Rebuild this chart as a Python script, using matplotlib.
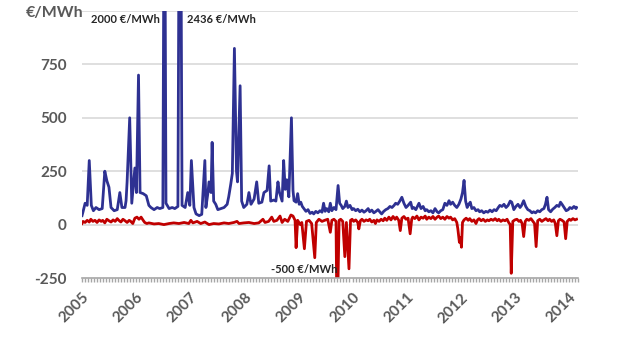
import matplotlib
matplotlib.use("Agg")
import matplotlib.pyplot as plt
import numpy as np

# Weeks since start of 2005 and prices in EUR/MWh
blue_weeks = [0, 1, 3, 5, 7, 9, 11, 13.5, 16.5, 19.5,
              22, 24, 26, 28, 31, 34, 36.5, 38.5, 41.5, 42.5,
              43.5, 46, 48, 51, 52.5, 54.5, 56, 59, 62, 64.5,
              66.5, 69.5, 72.5, 75, 78, 79.5, 81, 84, 87, 89.5,
              92.5, 94.5, 96.5, 99.5, 102, 104, 105.5, 108, 110, 113,
              115.5, 118.5, 119.5, 121.5, 122.5, 124.5, 125.5, 127, 129, 131,
              134, 137, 140, 141.5, 143.5, 145, 147, 149, 150, 152.5,
              154, 156, 159, 161, 163, 166, 168.5, 170.5, 173.5, 175.5,
              178.5, 180.5, 182, 185, 187, 189, 190.5, 193, 194.5, 196,
              197.5, 199.5, 202, 203.5, 204.5, 206.5, 208, 209.5, 211, 212.5,
              214, 216, 218, 220, 222, 223.5, 225.5, 227.5, 229.5, 231.5,
              233, 234.5, 236, 238, 239.5, 241, 243, 245, 247, 248.5,
              250, 251.5, 253.5, 255, 256.5, 258.5, 260.5, 262, 264, 266,
              268, 270, 272, 274, 276, 277.5, 279.5, 281.5, 283.5, 285.5,
              287.5, 289, 291, 293, 295, 297, 299, 301, 302.5, 304.5,
              306.5, 308.5, 310.5, 312.5, 314.5, 317, 318.5, 320, 322, 325,
              327, 329, 331, 332.5, 334.5, 336.5, 338.5, 340.5, 342.5, 344,
              346, 348, 350, 352, 354, 355.5, 357.5, 359.5, 361.5, 363.5,
              365.5, 367, 368.5, 370, 371.5, 373, 374.5, 376, 378, 380,
              382, 383.5, 385.5, 387.5, 389.5, 391.5, 393.5, 395.5, 397.5, 399.5,
              401.5, 403, 405, 407, 409, 411, 413, 414.5, 416.5, 418.5,
              420.5, 422.5, 424, 426, 428, 430, 432, 434, 435.5, 437.5,
              439.5, 441.5, 443.5, 445.5, 447, 448.5, 450, 452, 454, 456,
              458, 460, 461.5, 463, 465, 467, 469, 470.5, 472.5, 474.5,
              476.5, 477]
blue_prices = [42, 60, 100, 90, 300, 90, 65, 80, 70, 75,
               250, 205, 175, 80, 65, 70, 150, 80, 80, 112,
               200, 500, 100, 265, 150, 700, 150, 145, 135, 90,
               80, 70, 80, 75, 80, 2000, 100, 75, 80, 75,
               85, 2436, 90, 80, 150, 90, 300, 80, 50, 42,
               48, 300, 80, 150, 200, 150, 385, 110, 95, 70,
               75, 80, 95, 130, 190, 240, 825, 250, 200, 650,
               110, 80, 95, 150, 95, 120, 200, 100, 105, 150,
               160, 275, 110, 115, 110, 200, 150, 110, 300, 165,
               210, 130, 500, 160, 112, 105, 145, 95, 105, 85,
               75, 62, 70, 52, 58, 50, 62, 55, 65, 58,
               100, 62, 75, 60, 100, 65, 80, 70, 183, 100,
               90, 75, 85, 110, 80, 90, 70, 75, 65, 72,
               60, 68, 58, 65, 75, 60, 68, 55, 62, 70,
               58, 50, 62, 70, 75, 85, 80, 90, 100, 95,
               110, 128, 100, 80, 90, 105, 75, 80, 70, 100,
               75, 85, 65, 70, 60, 65, 55, 75, 60, 55,
               65, 70, 100, 90, 112, 95, 105, 90, 80, 95,
               120, 150, 207, 110, 80, 95, 105, 75, 80, 65,
               70, 60, 65, 55, 62, 58, 68, 60, 70, 65,
               80, 90, 85, 95, 80, 90, 110, 105, 70, 85,
               95, 80, 90, 112, 85, 70, 65, 55, 60, 55,
               65, 60, 70, 75, 95, 128, 70, 60, 72, 80,
               90, 85, 105, 95, 80, 65, 70, 80, 75, 85,
               75, 80]

red_weeks = [0, 1, 3, 5, 7, 8.5, 10.5, 12.5, 14.5, 16.5,
             18.5, 20, 22, 24, 26, 28, 30, 32, 34, 35.5,
             37.5, 39.5, 41.5, 43.5, 45.5, 47, 49, 51, 53, 55,
             57, 59, 60.5, 62.5, 64.5, 69.5, 74, 79, 84, 88.5,
             93.5, 98.5, 103, 105, 107, 111, 114.5, 118.5, 122.5, 127,
             132, 137, 141.5, 146.5, 149.5, 151.5, 156, 161, 166, 170.5,
             174.5, 176.5, 180, 183, 185, 188, 191, 193, 195.5, 198.5,
             201.5, 203.5, 205.5, 206.5, 208, 210.5, 212, 214.5, 216.5, 219,
             221.5, 224.5, 226, 228.5, 231.5, 234, 237, 239.5, 241, 243,
             245, 246, 248, 249.5, 251.5, 253.5, 255, 257.5, 259, 260.5,
             262, 264, 266, 267, 268.5, 270, 272, 274, 276, 277.5,
             279.5, 281.5, 283, 284.5, 286.5, 288.5, 290.5, 292, 294, 296,
             298, 300, 302, 303.5, 305.5, 307, 308.5, 310.5, 312.5, 314.5,
             316.5, 318, 319, 321, 323, 325, 327, 329, 331, 332.5,
             334.5, 336.5, 338.5, 340.5, 342.5, 344, 346, 348, 350, 352,
             354, 355.5, 357.5, 359.5, 361.5, 362.5, 364, 365, 366, 367,
             368.5, 370.5, 372.5, 374, 376, 378, 380, 381.5, 383, 385,
             387, 389, 391, 392.5, 394.5, 396.5, 398.5, 400.5, 402, 404,
             406, 408, 410, 411.5, 413, 414, 415.5, 417.5, 419.5, 421.5,
             423, 424.5, 426, 427.5, 429, 431, 433, 435, 436.5, 438,
             439.5, 441.5, 443.5, 445.5, 447.5, 449.5, 451, 453, 455, 456.5,
             458, 459.5, 461, 463, 465, 466.5, 468, 470, 471.5, 473.5,
             475.5, 477]
red_prices = [5, 15, 10, 20, 12, 25, 15, 20, 10, 22,
              15, 20, 8, 25, 18, 12, 22, 15, 28, 20,
              12, 25, 18, 10, 20, 15, 5, 30, 35, 25,
              35, 20, 10, 5, 8, 3, 5, 0, 5, 8,
              5, 10, 5, 20, 8, 15, 5, 12, 0, 5,
              3, 8, 5, 10, 15, 5, 8, 10, 5, 8,
              25, 10, 15, 35, 15, 20, 40, 10, 25, 15,
              45, 40, 20, -108, 20, 0, 10, -113, 15, 20,
              5, -155, 10, 25, 15, 20, 25, -36, 20, 25,
              15, -500, 20, 25, 15, -150, 10, -207, 20, 25,
              15, 22, 10, -20, 18, 25, 15, 22, 18, 25,
              12, 20, 5, 22, 15, 25, 18, 30, 20, 35,
              22, 38, 25, 35, 20, -28, 30, 38, 25, 30,
              -43, 25, 35, 28, 40, 22, 35, 30, 40, 25,
              35, 28, 38, 25, 35, 40, 28, 35, 25, 38,
              30, 35, 22, 28, 10, -20, -83, -60, -106, 10,
              22, 30, 20, 28, 15, 22, 5, 22, 28, 18,
              25, 15, 22, 18, 25, 20, 28, 18, 25, 15,
              22, 18, 25, 10, 0, -228, 15, 22, 25, 15,
              20, 5, -56, 15, 25, 20, 28, 15, 5, -103,
              18, 25, 15, 22, 28, 18, 25, 15, 22, 5,
              -52, 18, 25, 20, 12, -66, 15, 25, 20, 28,
              22, 25]

year_labels = ["2005", "2006", "2007", "2008", "2009", "2010", "2011", "2012", "2013", "2014"]
y_ticks = [-250, 0, 250, 500, 750, 1000]
y_labels = ["-250", "0", "250", "500", "750", ""]
unit_label = "€/MWh"
notes = ["2000 €/MWh", "2436 €/MWh", "-500 €/MWh"]

WEEKS_PER_YEAR = 52.18
bx = 2005 + np.array(blue_weeks) / WEEKS_PER_YEAR
rx = 2005 + np.array(red_weeks) / WEEKS_PER_YEAR

plt.rcParams['font.family'] = ['Lato', 'DejaVu Sans']
fig = plt.figure(figsize=(6.2, 3.42), dpi=100)
ax = fig.add_axes([82/620, 1 - 278/342, 496/620, 267/342])

grey = "#595959"
for v in y_ticks[1:]:
    ax.axhline(v, color="#d9d9d9", lw=1.2, zorder=0)

ax.plot(bx, blue_prices, color="#2e3192", lw=2.0, zorder=3)
ax.plot(rx, red_prices, color="#c00000", lw=2.0, zorder=2)

xmax = 2005 + 496 / 54.1
ax.set_xlim(2005, xmax)
ax.set_ylim(-250, 1000)

ax.set_yticks(y_ticks)
ax.set_yticklabels(y_labels, fontsize=11, fontweight="bold", color=grey)
ax.tick_params(axis="y", length=0, pad=11)
fig.text(55/620, 1 - 13/342, unit_label, fontsize=11.5, fontweight="bold",
         color=grey, ha="center", va="center")

years = list(range(2005, 2015))
ax.set_xticks(years)
ax.set_xticklabels(year_labels, rotation=45, ha="right", rotation_mode="anchor",
                   fontsize=11, fontweight="bold", color=grey)
ax.set_xticks(np.arange(2005, xmax, 1/18), minor=True)
ax.tick_params(axis="x", which="both", length=3, color="#a6a6a6", width=1.0, pad=6)

for s in ["left", "right", "top"]:
    ax.spines[s].set_visible(False)
ax.spines["bottom"].set_color("#a6a6a6")
ax.spines["bottom"].set_linewidth(1.2)

ax.text(2005.17, 985, notes[0], fontsize=8, fontweight="bold", color="#262626", va="top")
ax.text(2006.94, 985, notes[1], fontsize=8, fontweight="bold", color="#262626", va="top")
ax.text(2008.49, -208, notes[2], fontsize=8, fontweight="bold", color="#262626", va="center")

fig.savefig("out.png", dpi=100)
